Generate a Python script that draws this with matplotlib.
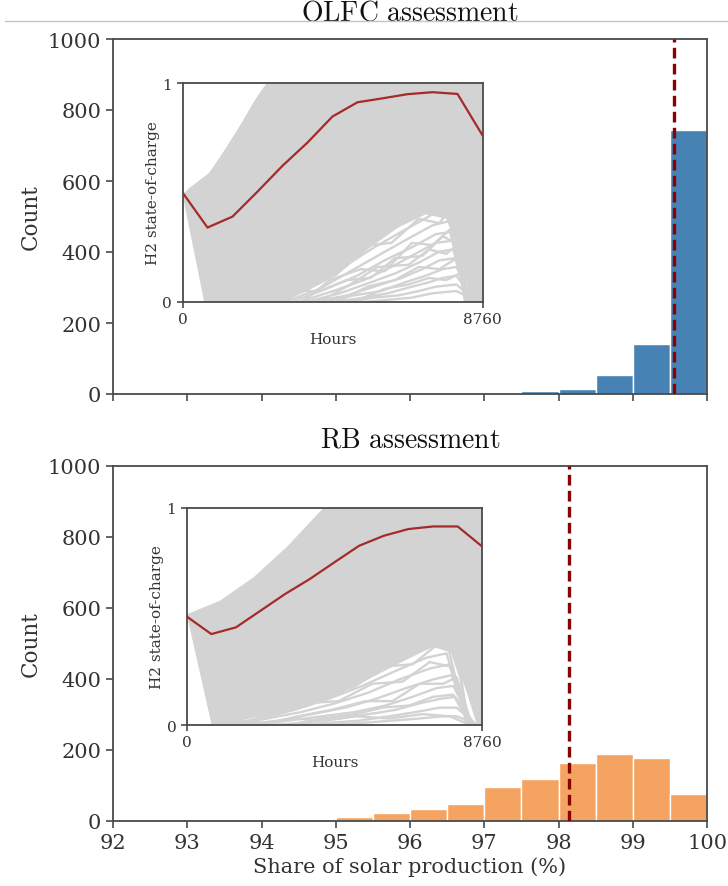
import matplotlib
matplotlib.use("Agg")
import matplotlib.pyplot as plt
from matplotlib.lines import Line2D

plt.rcParams["font.family"] = ["DejaVu Serif"]
plt.rcParams["mathtext.fontset"] = "cm"

# ---- histogram data: share of solar production (%) ----
bin_edges_olfc = [97.5, 98.0, 98.5, 99.0, 99.5, 100.0]
counts_olfc = [8, 14, 54, 141, 744]
mean_olfc = 99.56

bin_edges_rb = [94.5, 95.0, 95.5, 96.0, 96.5, 97.0, 97.5, 98.0, 98.5, 99.0, 99.5, 100.0]
counts_rb = [5, 10, 22, 33, 48, 97, 117, 163, 190, 178, 76]
mean_rb = 98.14

x_ticks = [92, 93, 94, 95, 96, 97, 98, 99, 100]
y_ticks = [0, 200, 400, 600, 800, 1000]

# ---- H2 state-of-charge: monthly mean trajectory ----
hours_monthly = [0, 730, 1460, 2190, 2920, 3650, 4380, 5110, 5840, 6570, 7300, 8030, 8760]
soc_mean_olfc = [0.50, 0.34, 0.39, 0.504, 0.622, 0.728, 0.847, 0.912, 0.930, 0.949, 0.958, 0.950, 0.761]
soc_mean_rb = [0.50, 0.419, 0.450, 0.527, 0.604, 0.673, 0.750, 0.826, 0.872, 0.903, 0.915, 0.915, 0.822]

# envelope of the dense bundle of scenario trajectories (hours, soc)
olfc_upper_h = [0, 195, 780, 1170, 1658, 2146, 2458, 8760]
olfc_upper_v = [0.49, 0.52, 0.59, 0.68, 0.80, 0.93, 1.0, 1.0]
olfc_floor_h = [8760, 8450, 8150, 7700, 7100, 6300, 5400, 4500, 3500, 2700, 634, 0]
olfc_floor_v = [0.0, 0.0, 0.20, 0.38, 0.40, 0.34, 0.24, 0.12, 0.04, 0.0, 0.0, 0.49]

rb_upper_h = [0, 987, 1975, 2963, 4049, 8760]
rb_upper_v = [0.51, 0.573, 0.68, 0.82, 1.0, 1.0]
rb_floor_h = [8760, 8600, 8300, 7900, 7300, 6500, 5500, 4500, 3500, 2500, 1500, 740, 0]
rb_floor_v = [0.0, 0.0, 0.15, 0.33, 0.36, 0.30, 0.22, 0.14, 0.08, 0.05, 0.02, 0.0, 0.51]

# individual low-storage scenarios below the dense bundle: (hours, soc) pairs
olfc_sparse = [
    [(2700, 0), (3600, 0.12), (4500, 0.22), (5400, 0.33), (6300, 0.42), (7100, 0.49), (7700, 0.50), (8200, 0.15), (8300, 0)],
    [(2800, 0), (3700, 0.09), (4600, 0.19), (5500, 0.29), (6400, 0.37), (7200, 0.44), (7750, 0.45), (8250, 0)],
    [(2900, 0), (3900, 0.08), (4800, 0.17), (5600, 0.25), (6500, 0.33), (7300, 0.40), (7800, 0.41), (8300, 0)],
    [(3000, 0), (4000, 0.06), (4900, 0.14), (5800, 0.22), (6600, 0.29), (7300, 0.35), (7800, 0.37), (8350, 0)],
    [(3200, 0), (4200, 0.06), (5100, 0.12), (5900, 0.19), (6700, 0.25), (7400, 0.31), (7850, 0.32), (8350, 0)],
    [(3400, 0), (4400, 0.05), (5300, 0.10), (6100, 0.16), (6800, 0.22), (7400, 0.27), (7900, 0.28), (8400, 0)],
    [(3600, 0), (4600, 0.04), (5500, 0.09), (6200, 0.13), (6900, 0.18), (7500, 0.23), (7900, 0.24), (8400, 0)],
    [(3800, 0), (4800, 0.03), (5600, 0.07), (6400, 0.11), (7000, 0.15), (7500, 0.19), (7950, 0.20), (8450, 0)],
    [(4100, 0), (5000, 0.03), (5800, 0.05), (6500, 0.09), (7100, 0.12), (7600, 0.15), (8000, 0.16), (8500, 0)],
    [(4400, 0), (5300, 0.02), (6000, 0.04), (6700, 0.07), (7200, 0.09), (7600, 0.11), (8000, 0.12), (8550, 0)],
    [(4800, 0), (5600, 0.02), (6300, 0.03), (6900, 0.05), (7400, 0.07), (8000, 0.08), (8600, 0)],
    [(5300, 0), (6000, 0.01), (6700, 0.02), (7300, 0.04), (8000, 0.05), (8650, 0)],
    [(3000, 0), (3900, 0.14), (4700, 0.16), (5500, 0.26), (6100, 0.27), (6900, 0.38), (7500, 0.36), (7900, 0.44), (8250, 0.05)],
    [(3500, 0), (4300, 0.10), (5200, 0.15), (5900, 0.14), (6700, 0.27), (7300, 0.26), (7800, 0.33), (8300, 0)],
    [(4000, 0), (4900, 0.08), (5700, 0.16), (6600, 0.17), (7200, 0.24), (7700, 0.22), (8100, 0.27), (8450, 0)],
    [(4500, 0), (5400, 0.07), (6200, 0.10), (6900, 0.16), (7500, 0.15), (8000, 0.20), (8400, 0)],
    [(5000, 0), (5900, 0.06), (6600, 0.08), (7200, 0.11), (7700, 0.10), (8100, 0.13), (8500, 0)],
    [(2600, 0), (3300, 0.05), (4000, 0.05), (4800, 0.10), (5500, 0.11), (6200, 0.20), (7000, 0.21), (7600, 0.30), (8100, 0.26), (8350, 0)],
]
rb_sparse = [
    [(800, 0), (1800, 0.05), (2800, 0.11), (3800, 0.18), (4800, 0.26), (5800, 0.34), (6800, 0.42), (7600, 0.46), (8150, 0.20), (8350, 0)],
    [(900, 0), (2000, 0.04), (3000, 0.09), (4000, 0.15), (5000, 0.22), (6000, 0.29), (7000, 0.36), (7700, 0.39), (8300, 0)],
    [(1100, 0), (2200, 0.03), (3200, 0.07), (4200, 0.12), (5200, 0.18), (6200, 0.25), (7100, 0.31), (7700, 0.33), (8350, 0)],
    [(1300, 0), (2400, 0.03), (3400, 0.06), (4400, 0.10), (5400, 0.15), (6300, 0.21), (7200, 0.26), (7800, 0.28), (8400, 0)],
    [(1600, 0), (2700, 0.02), (3700, 0.05), (4700, 0.08), (5600, 0.12), (6500, 0.17), (7300, 0.21), (7850, 0.23), (8450, 0)],
    [(2000, 0), (3000, 0.02), (4000, 0.04), (5000, 0.06), (5900, 0.09), (6700, 0.13), (7400, 0.17), (7900, 0.18), (8500, 0)],
    [(2500, 0), (3500, 0.01), (4500, 0.03), (5400, 0.05), (6200, 0.07), (6900, 0.10), (7500, 0.12), (7950, 0.13), (8550, 0)],
    [(3200, 0), (4200, 0.01), (5100, 0.02), (6000, 0.04), (6800, 0.06), (7500, 0.08), (8000, 0.08), (8600, 0)],
    [(4200, 0), (5200, 0.01), (6100, 0.02), (6900, 0.03), (7600, 0.04), (8000, 0.04), (8650, 0)],
    [(1000, 0), (2100, 0.07), (3000, 0.08), (4000, 0.17), (4900, 0.17), (5900, 0.27), (6700, 0.28), (7500, 0.38), (8000, 0.36), (8300, 0)],
    [(1400, 0), (2500, 0.05), (3500, 0.10), (4500, 0.11), (5500, 0.19), (6400, 0.20), (7200, 0.29), (7800, 0.27), (8350, 0)],
    [(2200, 0), (3300, 0.04), (4300, 0.07), (5300, 0.11), (6100, 0.11), (6900, 0.19), (7600, 0.19), (8000, 0.22), (8450, 0)],
    [(3000, 0), (4000, 0.03), (5000, 0.05), (5800, 0.08), (6600, 0.09), (7300, 0.13), (7900, 0.14), (8400, 0)],
    [(700, 0), (1500, 0.02), (2300, 0.01), (3200, 0.03), (4100, 0.02), (5000, 0.04), (6000, 0.03), (7000, 0.05), (7800, 0.04), (8400, 0)],
]

BLUE = "#4682b4"
ORANGE = "#f4a460"
DARKRED = "#8b0000"
MEANRED = "#a52a2a"
GREY = "#d3d3d3"
SPINE = "#4a4a4a"
TEXT = "#333333"

fig = plt.figure(figsize=(7.28, 8.87), dpi=100)

# thin separator under the first title
fig.add_artist(Line2D([5 / 728, 1.0], [1 - 22.3 / 887, 1 - 22.3 / 887],
                      transform=fig.transFigure, color="#c4c4c4", lw=1.0))

ax_top = fig.add_axes([113 / 728, 1 - 395 / 887, 594 / 728, 355 / 887])
ax_bot = fig.add_axes([113 / 728, 1 - 822 / 887, 594 / 728, 355 / 887], sharex=ax_top)


def style_axes(ax, fs):
    for s in ax.spines.values():
        s.set_color(SPINE)
        s.set_linewidth(1.3)
    ax.tick_params(direction="out", length=5, width=1.2, color=SPINE,
                   labelcolor=TEXT, labelsize=fs)


def draw_hist(ax, edges, counts, color, mean, title):
    widths = [edges[i + 1] - edges[i] for i in range(len(counts))]
    ax.bar(edges[:-1], counts, width=widths, align="edge", color=color,
           edgecolor="white", linewidth=1.0, zorder=2)
    ax.axvline(mean, color=DARKRED, lw=2.4, ls=(0, (3.2, 1.6)), zorder=3)
    ax.set_xlim(92, 100)
    ax.set_ylim(0, 1000)
    ax.set_xticks(x_ticks)
    ax.set_yticks(y_ticks)
    ax.set_ylabel("Count", fontsize=15.5, color=TEXT, labelpad=4)
    ax.set_title(r"$\mathrm{" + title.replace(" ", r"\ ") + "}$", fontsize=20,
                 color="#111111", pad=14)
    style_axes(ax, 15)


draw_hist(ax_top, bin_edges_olfc, counts_olfc, BLUE, mean_olfc, "OLFC assessment")
draw_hist(ax_bot, bin_edges_rb, counts_rb, ORANGE, mean_rb, "RB assessment")
ax_top.tick_params(labelbottom=False)
ax_bot.set_xlabel("Share of solar production (%)", fontsize=15, color=TEXT, labelpad=3)


def draw_inset(rect, up_h, up_v, fl_h, fl_v, sparse, mean_soc):
    ax = fig.add_axes(rect)
    ax.fill(list(up_h) + list(fl_h), list(up_v) + list(fl_v),
            color=GREY, lw=0, zorder=1)
    for traj in sparse:
        h = [p[0] for p in traj]
        v = [p[1] for p in traj]
        ax.plot(h, v, color=GREY, lw=1.7, zorder=1)
    ax.plot(hours_monthly, mean_soc, color=MEANRED, lw=1.6, zorder=3)
    ax.set_xlim(0, 8760)
    ax.set_ylim(0, 1)
    ax.set_xticks([0, 8760])
    ax.set_yticks([0, 1])
    ax.set_xlabel("Hours", fontsize=11, color=TEXT, labelpad=4)
    ax.set_ylabel("H2 state-of-charge", fontsize=11, color=TEXT, labelpad=2)
    style_axes(ax, 11)
    ax.tick_params(length=4)
    return ax


draw_inset([182.5 / 728, 1 - 303 / 887, 300 / 728, 219 / 887],
           olfc_upper_h, olfc_upper_v, olfc_floor_h, olfc_floor_v,
           olfc_sparse, soc_mean_olfc)
draw_inset([186.7 / 728, 1 - 726 / 887, 295.6 / 728, 217 / 887],
           rb_upper_h, rb_upper_v, rb_floor_h, rb_floor_v,
           rb_sparse, soc_mean_rb)

fig.savefig("out.png", dpi=100)
